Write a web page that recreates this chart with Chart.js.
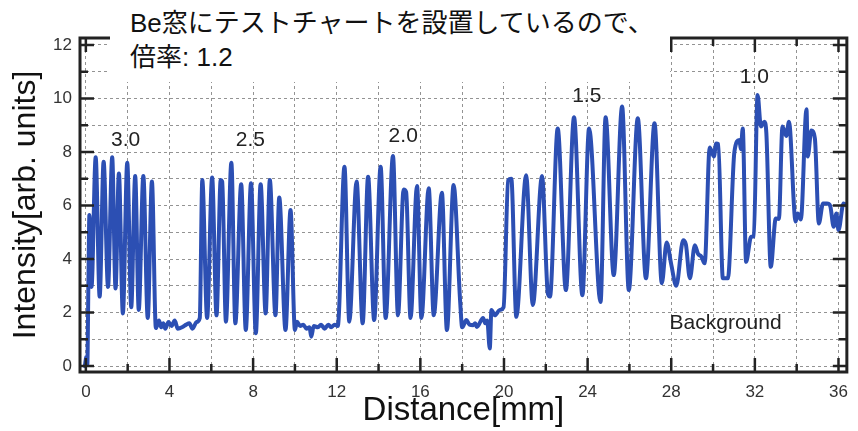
<!DOCTYPE html>
<html>
<head>
<meta charset="utf-8">
<script src="https://cdn.jsdelivr.net/npm/chart.js@4/dist/chart.umd.min.js"></script>
<style>
  html, body { margin: 0; padding: 0; background: #fff; }
  #wrap { position: relative; width: 858px; height: 431px; }
  #note {
    position: absolute; left: 110px; top: 0; width: 540px; height: 76px;
    padding: 6px 0 0 20px; background: #fff;
    font-family: "Liberation Sans", "Noto Sans CJK JP", sans-serif;
    font-size: 26px; line-height: 34px; color: #111;
  }
</style>
</head>
<body>
<div id="wrap">
  <canvas id="c" width="858" height="431"></canvas>
  <div id="note">Be窓にテストチャートを設置しているので、<br>倍率: 1.2</div>
</div>
<script>
// profile
const distance = [
  -0.05, 0.03, 0.07, 0.12, 0.17, 0.27, 0.47, 0.66, 0.85, 1.06, 1.26, 1.42, 1.58, 1.77, 1.98, 2.17, 2.36, 2.53, 2.75, 2.96, 3.16, 3.35,
  3.5, 3.6, 3.7, 3.8, 3.95, 4.1, 4.25, 4.4, 4.6, 4.8, 4.95, 5.1, 5.3, 5.45,
  5.57, 5.8, 6.04, 6.25, 6.45, 6.52, 6.7, 6.96, 7.15, 7.43, 7.65, 7.9, 8.13, 8.36, 8.6, 8.8, 9.07, 9.25, 9.55, 9.79, 10.0,
  10.1, 10.25, 10.4, 10.55, 10.7, 10.78, 10.9, 11.1, 11.25, 11.42, 11.6, 11.73, 11.9, 12.05,
  12.37, 12.6, 12.95, 13.24, 13.5, 13.79, 14.1, 14.34, 14.69, 14.93, 15.2, 15.32, 15.53, 15.84, 16.05, 16.4, 16.64, 17.03, 17.27, 17.59, 17.9, 18.0,
  18.2, 18.35, 18.53, 18.62, 18.7, 19.0, 19.1, 19.2, 19.32, 19.4, 19.56, 19.8, 19.98,
  20.2, 20.35, 20.59, 21.06, 21.38, 21.82, 22.1, 22.2, 22.57, 22.96, 23.35, 23.75, 24.07, 24.62, 24.86, 25.25, 25.65, 25.97, 26.4, 26.79, 27.2, 27.55,
  27.78, 28.0, 28.24, 28.57, 28.7, 28.89, 29.13, 29.28, 29.44, 29.6,
  29.84, 30.04, 30.15, 30.25, 30.47, 30.71, 31.02, 31.26, 31.33, 31.42, 31.58, 31.82, 31.95, 32.13, 32.29, 32.45, 32.55, 32.76,
  33.0, 33.15, 33.32, 33.5, 33.63, 33.95, 34.05, 34.2, 34.47, 34.53, 34.7, 34.87, 35.06, 35.26, 35.45, 35.6, 35.77, 35.9, 36.0, 36.24, 36.4
];
const intensity = [
  0.0, 0.35, 0.05, 3.0, 5.65, 2.96, 7.8, 2.6, 7.64, 2.96, 7.8, 2.9, 7.2, 1.97, 7.6, 2.2, 7.1, 2.1, 7.1, 1.8, 6.9, 1.42,
  1.7, 1.45, 1.6, 1.4, 1.65, 1.5, 1.7, 1.4, 1.45, 1.55, 1.6, 1.4, 1.65, 1.8,
  6.95, 1.8, 7.05, 1.9, 6.95, 6.9, 1.66, 7.6, 1.6, 6.8, 1.35, 6.83, 1.23, 6.8, 1.97, 6.95, 1.9, 6.3, 1.35, 5.83, 1.35,
  1.66, 1.5, 1.55, 1.4, 1.45, 1.1, 1.5, 1.45, 1.55, 1.4, 1.55, 1.45, 1.55, 1.5,
  7.45, 1.66, 6.9, 1.6, 7.08, 1.72, 7.45, 1.8, 7.85, 1.9, 6.6, 6.5, 1.8, 6.73, 1.8, 6.65, 1.9, 6.48, 1.35, 6.77, 2.46, 1.45,
  1.72, 1.55, 1.53, 1.6, 1.46, 1.8, 1.6, 1.7, 0.66, 2.1, 1.9, 2.1, 2.2,
  6.95, 7.0, 1.84, 7.13, 2.28, 7.1, 2.7, 2.6, 8.88, 2.84, 9.3, 2.65, 8.88, 2.4, 9.3, 3.4, 9.7, 2.84, 9.26, 3.28, 9.07, 3.1,
  4.62, 3.8, 3.0, 4.7, 4.55, 3.28, 4.52, 4.2, 4.09, 3.84,
  8.17, 7.83, 8.32, 8.3, 3.28, 3.28, 8.0, 8.45, 8.1, 8.88, 3.9, 4.83, 4.85, 10.13, 8.95, 9.13, 8.7, 3.71,
  5.52, 5.5, 8.95, 8.6, 9.13, 5.4, 5.7, 5.48, 9.6, 7.83, 8.8, 8.51, 5.33, 6.08, 6.08, 6.0, 5.21, 5.7, 5.08, 6.08, 6.0
];

const xGrid = [0, 2, 4, 6, 8, 10, 12, 14, 16, 18, 20, 22, 24, 26, 28, 30, 32, 34, 36];
const xLabels = [0, 4, 8, 12, 16, 20, 24, 28, 32, 36];
const yGrid = [0, 1, 2, 3, 4, 5, 6, 7, 8, 9, 10, 11, 12];
const yLabels = [0, 2, 4, 6, 8, 10, 12];

const notes = ['3.0', '2.5', '2.0', '1.5', '1.0', 'Background'];
const noteX = [1.9, 7.87, 15.18, 23.96, 31.97, 30.6];
const noteY = [8.45, 8.45, 8.6, 10.09, 10.8, 1.6];

const font = '"Liberation Sans", Arial, sans-serif';

// frame, inward ticks and the group labels
const framePlugin = {
  id: 'framePlugin',
  afterDatasetsDraw(chart) {
    const { ctx, chartArea: a, scales: { x, y } } = chart;
    ctx.save();
    ctx.strokeStyle = '#222';
    ctx.lineWidth = 2.5;
    ctx.beginPath();
    xGrid.forEach(v => {
      const px = x.getPixelForValue(v);
      const len = xLabels.includes(v) ? 14 : 8;
      ctx.moveTo(px, a.bottom); ctx.lineTo(px, a.bottom - len);
      ctx.moveTo(px, a.top); ctx.lineTo(px, a.top + len);
    });
    yGrid.forEach(v => {
      const py = y.getPixelForValue(v);
      const len = yLabels.includes(v) ? 14 : 8;
      ctx.moveTo(a.left, py); ctx.lineTo(a.left + len, py);
      ctx.moveTo(a.right, py); ctx.lineTo(a.right - len, py);
    });
    ctx.stroke();
    ctx.lineWidth = 3;
    ctx.strokeRect(a.left, a.top, a.right - a.left, a.bottom - a.top);

    ctx.fillStyle = '#222';
    ctx.font = '21px ' + font;
    ctx.textAlign = 'center';
    ctx.textBaseline = 'middle';
    notes.forEach((t, i) => {
      ctx.fillText(t, x.getPixelForValue(noteX[i]), y.getPixelForValue(noteY[i]));
    });
    ctx.restore();
  }
};

new Chart(document.getElementById('c'), {
  type: 'line',
  data: {
    datasets: [{
      data: distance.map((d, i) => ({ x: d, y: intensity[i] })),
      borderColor: '#2c4fb3',
      borderWidth: 4,
      pointRadius: 0,
      cubicInterpolationMode: 'monotone',
      borderJoinStyle: 'round',
      borderCapStyle: 'round',
      fill: false
    }]
  },
  options: {
    responsive: false,
    animation: false,
    events: [],
    layout: { padding: { left: 0, right: 5, top: 38, bottom: 0 } },
    plugins: { legend: { display: false }, tooltip: { enabled: false } },
    scales: {
      x: {
        type: 'linear',
        bounds: 'data',
        min: -0.28,
        max: 36.4,
        afterBuildTicks: s => { s.ticks = xGrid.map(v => ({ value: v })); },
        afterFit: s => { s.height = 59; },
        ticks: {
          autoSkip: false, maxRotation: 0, padding: 10, color: '#333',
          font: { family: font, size: 17 },
          callback: v => xLabels.includes(v) ? String(v) : ''
        },
        grid: { color: 'rgba(120,120,120,0.8)', lineWidth: 1, drawTicks: false },
        border: { display: false, dash: [3, 3] },
        title: {
          display: true, text: 'Distance[mm]', color: '#111',
          font: { family: font, size: 33 }, padding: { top: 0, bottom: 0 }
        }
      },
      y: {
        type: 'linear',
        bounds: 'data',
        min: -0.22,
        max: 12.26,
        afterBuildTicks: s => { s.ticks = yGrid.map(v => ({ value: v })); },
        afterFit: s => { s.width = 80; },
        ticks: {
          autoSkip: false, padding: 8, color: '#333',
          font: { family: font, size: 17 },
          callback: v => yLabels.includes(v) ? String(v) : ''
        },
        grid: { color: 'rgba(120,120,120,0.8)', lineWidth: 1, drawTicks: false },
        border: { display: false, dash: [3, 3] },
        title: {
          display: true, text: 'Intensity[arb. units]', color: '#111',
          font: { family: font, size: 32 }, padding: { top: 7, bottom: 0 }
        }
      }
    }
  },
  plugins: [framePlugin]
});
</script>
</body>
</html>
